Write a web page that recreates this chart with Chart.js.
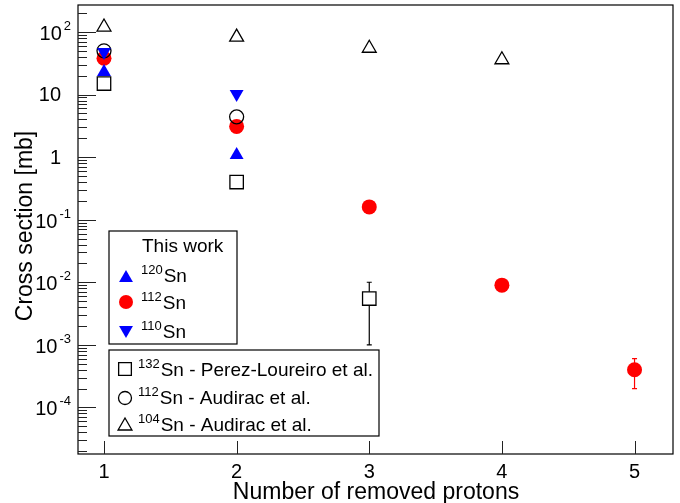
<!DOCTYPE html>
<html>
<head>
<meta charset="utf-8">
<script src="https://cdn.jsdelivr.net/npm/chart.js@4/dist/chart.umd.min.js"></script>
<style>
  body { margin: 0; background: #fff; }
  canvas { display: block; }
</style>
</head>
<body>
<canvas id="c" width="680" height="503"></canvas>
<script>
// number of removed protons
const protons = [1, 2, 3, 4, 5];

// this work
const sn120 = [23, 1.08];
const sn112 = [38, 3.1, 0.16, 0.009, 0.0004];
const sn112ErrLow = [null, null, null, null, 0.0002];
const sn112ErrHigh = [null, null, null, null, 0.0006];
const sn110 = [48, 10.2];

// previous measurements
const sn132Perez = [15, 0.4, 0.0055];
const sn132ErrLow = [null, null, 0.001];
const sn132ErrHigh = [null, null, 0.01];
const sn112Audirac = [50, 4.4];
const sn104Audirac = [120, 83, 55, 36];

// axis ticks
const xTicks = [1, 2, 3, 4, 5];
const yDecades = [-4, -3, -2, -1, 0, 1, 2];

const FONT = '"Liberation Sans", Arial, sans-serif';

function pts(arr) {
  return arr.map((v, i) => ({ x: protons[i], y: v }));
}

// marker drawn the same way Chart.js does it, used in the legend
function marker(ctx, style, x, y, r, fill, stroke, rot) {
  ctx.save();
  ctx.beginPath();
  if (style === 'circle') {
    ctx.arc(x, y, r, 0, Math.PI * 2);
  } else if (style === 'rect') {
    const s = Math.SQRT1_2 * r;
    ctx.rect(x - s, y - s, 2 * s, 2 * s);
  } else {
    let a = (rot || 0) * Math.PI / 180;
    ctx.moveTo(x + Math.sin(a) * r, y - Math.cos(a) * r);
    a += 2 * Math.PI / 3;
    ctx.lineTo(x + Math.sin(a) * r, y - Math.cos(a) * r);
    a += 2 * Math.PI / 3;
    ctx.lineTo(x + Math.sin(a) * r, y - Math.cos(a) * r);
    ctx.closePath();
  }
  if (fill) { ctx.fillStyle = fill; ctx.fill(); }
  if (stroke) { ctx.lineWidth = 1.3; ctx.strokeStyle = stroke; ctx.stroke(); }
  ctx.restore();
}

// "¹²⁰Sn ..." style text: small raised number then normal text
function supText(ctx, x, y, sup, main, size) {
  ctx.fillStyle = '#000';
  ctx.textAlign = 'left';
  ctx.textBaseline = 'alphabetic';
  ctx.font = '13px ' + FONT;
  ctx.fillText(sup, x, y - size * 0.42);
  const w = ctx.measureText(sup).width;
  ctx.font = size + 'px ' + FONT;
  ctx.fillText(main, x + w + 1, y);
}

const errorBars = {
  id: 'errorBars',
  beforeDatasetsDraw(chart) {
    const { ctx, scales: { x, y } } = chart;
    const sets = [
      [sn112, sn112ErrLow, sn112ErrHigh, '#ff0000'],
      [sn132Perez, sn132ErrLow, sn132ErrHigh, '#000000']
    ];
    ctx.save();
    ctx.lineWidth = 1.2;
    sets.forEach(([vals, lo, hi, col]) => {
      vals.forEach((v, i) => {
        if (lo[i] == null) return;
        const px = x.getPixelForValue(protons[i]);
        const y1 = y.getPixelForValue(lo[i]);
        const y2 = y.getPixelForValue(hi[i]);
        ctx.strokeStyle = col;
        ctx.beginPath();
        ctx.moveTo(px, y1); ctx.lineTo(px, y2);
        ctx.moveTo(px - 2.5, y1); ctx.lineTo(px + 2.5, y1);
        ctx.moveTo(px - 2.5, y2); ctx.lineTo(px + 2.5, y2);
        ctx.stroke();
      });
    });
    ctx.restore();
  }
};

const frame = {
  id: 'frame',
  afterDraw(chart) {
    const { ctx, chartArea: a, scales: { x, y } } = chart;
    ctx.save();
    ctx.strokeStyle = '#000';
    ctx.lineWidth = 1.2;
    ctx.strokeRect(a.left, a.top, a.right - a.left, a.bottom - a.top);

    // y ticks, inward
    ctx.lineWidth = 1;
    ctx.strokeStyle = '#222';
    ctx.beginPath();
    for (let d = -5; d <= 2; d++) {
      for (let m = 1; m <= 9; m++) {
        const v = m * Math.pow(10, d);
        if (v < y.min || v > y.max) continue;
        const py = Math.round(y.getPixelForValue(v)) + 0.5;
        ctx.moveTo(a.left, py);
        ctx.lineTo(a.left + (m === 1 ? 18 : 9), py);
      }
    }
    xTicks.forEach(t => {
      const px = Math.round(x.getPixelForValue(t)) + 0.5;
      ctx.moveTo(px, a.bottom);
      ctx.lineTo(px, a.bottom - 13);
    });
    ctx.stroke();

    // tick labels
    ctx.fillStyle = '#000';
    ctx.textBaseline = 'middle';
    ctx.font = '20px ' + FONT;
    ctx.textAlign = 'center';
    xTicks.forEach(t => ctx.fillText(String(t), x.getPixelForValue(t), a.bottom + 18));

    yDecades.forEach(d => {
      const py = y.getPixelForValue(Math.pow(10, d));
      if (d === 0 || d === 1) {
        ctx.font = '20px ' + FONT;
        ctx.textAlign = 'right';
        ctx.textBaseline = 'middle';
        ctx.fillText(d === 0 ? '1' : '10', 61, py + 1);
      } else {
        const ex = String(d);
        ctx.font = '13px ' + FONT;
        const ew = ctx.measureText(ex).width;
        ctx.textAlign = 'left';
        ctx.textBaseline = 'alphabetic';
        ctx.fillText(ex, 71 - ew, py - 2);
        ctx.font = '20px ' + FONT;
        ctx.textAlign = 'right';
        ctx.fillText('10', 71 - ew - 2, py + 8);
      }
    });

    // axis titles
    ctx.font = '23px ' + FONT;
    ctx.textAlign = 'center';
    ctx.textBaseline = 'alphabetic';
    ctx.fillText('Number of removed protons', 376, 499);
    ctx.save();
    ctx.translate(32, 226);
    ctx.rotate(-Math.PI / 2);
    ctx.fillText('Cross section [mb]', 0, 0);
    ctx.restore();

    // legend boxes
    ctx.lineWidth = 1.2;
    ctx.strokeStyle = '#000';
    ctx.fillStyle = '#fff';
    ctx.fillRect(109, 231, 128, 113);
    ctx.strokeRect(109, 231, 128, 113);
    ctx.fillRect(109, 350, 270, 86);
    ctx.strokeRect(109, 350, 270, 86);

    ctx.fillStyle = '#000';
    ctx.font = '19px ' + FONT;
    ctx.textAlign = 'left';
    ctx.textBaseline = 'alphabetic';
    ctx.fillText('This work', 142, 252);

    marker(ctx, 'triangle', 126, 278, 8, '#0000ff', null, 0);
    supText(ctx, 141, 282, '120', 'Sn', 19);
    marker(ctx, 'circle', 126, 302, 7, '#ff0000', null);
    supText(ctx, 141, 309, '112', 'Sn', 19);
    marker(ctx, 'triangle', 126, 330, 8, '#0000ff', null, 180);
    supText(ctx, 141, 338, '110', 'Sn', 19);

    marker(ctx, 'rect', 125, 369, 9, null, '#000');
    supText(ctx, 138, 376, '132', 'Sn - Perez-Loureiro et al.', 19);
    marker(ctx, 'circle', 125, 398, 6.5, null, '#000');
    supText(ctx, 138, 404, '112', 'Sn - Audirac et al.', 19);
    marker(ctx, 'triangle', 125, 426, 8, null, '#000', 0);
    supText(ctx, 138, 431, '104', 'Sn - Audirac et al.', 19);
    ctx.restore();
  }
};

new Chart(document.getElementById('c'), {
  type: 'scatter',
  data: {
    datasets: [
      { label: '104Sn - Audirac et al.', data: pts(sn104Audirac), pointStyle: 'triangle', pointRadius: 8,
        backgroundColor: 'rgba(0,0,0,0)', borderColor: '#000', borderWidth: 1.3 },
      { label: '120Sn', data: pts(sn120), pointStyle: 'triangle', pointRadius: 8,
        backgroundColor: '#0000ff', borderColor: '#0000ff', borderWidth: 0 },
      { label: '110Sn', data: pts(sn110), pointStyle: 'triangle', rotation: 180, pointRadius: 8,
        backgroundColor: '#0000ff', borderColor: '#0000ff', borderWidth: 0 },
      { label: '112Sn - Audirac et al.', data: pts(sn112Audirac), pointStyle: 'circle', pointRadius: 7,
        backgroundColor: 'rgba(0,0,0,0)', borderColor: '#000', borderWidth: 1.3 },
      { label: '112Sn', data: pts(sn112), pointStyle: 'circle', pointRadius: 7.5,
        backgroundColor: '#ff0000', borderColor: '#ff0000', borderWidth: 0 },
      { label: '132Sn - Perez-Loureiro et al.', data: pts(sn132Perez), pointStyle: 'rect', pointRadius: 9.5,
        backgroundColor: '#fff', borderColor: '#000', borderWidth: 1.3 }
    ]
  },
  options: {
    responsive: false,
    animation: false,
    devicePixelRatio: 1,
    layout: { autoPadding: false, padding: { left: 78, top: 5, right: 7, bottom: 49 } },
    plugins: { legend: { display: false }, tooltip: { enabled: false } },
    scales: {
      x: { type: 'linear', display: false, min: 0.804, max: 5.29 },
      y: { type: 'logarithmic', display: false, min: 1.8e-5, max: 270 }
    }
  },
  plugins: [errorBars, frame]
});
</script>
</body>
</html>
